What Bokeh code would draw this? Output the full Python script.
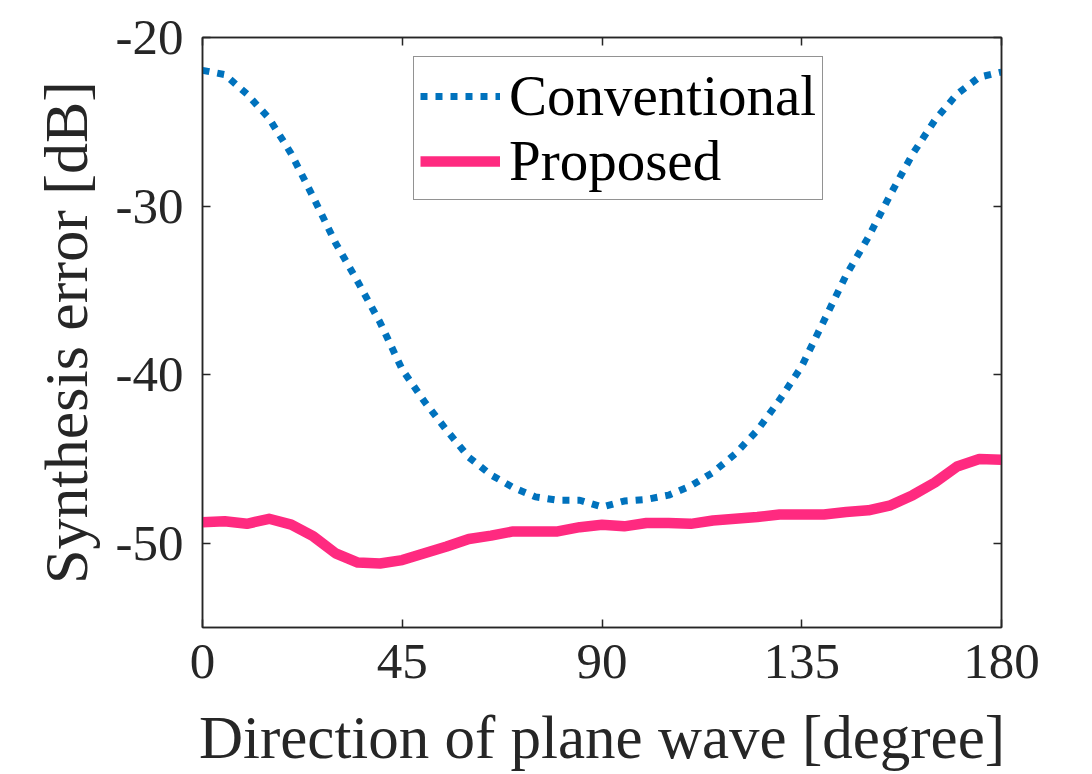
from bokeh.plotting import figure
from bokeh.models import (LinearAxis, FixedTicker, Range1d, Legend, LegendItem)
from bokeh.embed import file_html
from bokeh.resources import INLINE

# ---- data ----
angles = list(range(0, 181, 5))
conventional = [-21.95, -22.2, -23.35, -24.8, -26.9, -29.5, -32.2, -34.5, -36.9,
                -39.7, -41.6, -43.3, -44.9, -45.95, -46.7, -47.25, -47.45, -47.45,
                -47.85, -47.5, -47.4, -47.15, -46.6, -45.8, -44.7, -43.3, -41.5,
                -39.5, -36.8, -34.1, -31.85, -29.3, -26.9, -24.9, -23.35, -22.35,
                -22.05]
proposed = [-48.75, -48.7, -48.85, -48.55, -48.9, -49.6, -50.6, -51.15, -51.2,
            -51.0, -50.6, -50.2, -49.75, -49.55, -49.3, -49.3, -49.3, -49.05,
            -48.9, -49.0, -48.8, -48.8, -48.85, -48.65, -48.55, -48.45, -48.3,
            -48.3, -48.3, -48.15, -48.05, -47.75, -47.15, -46.4, -45.45, -45.0,
            -45.05]
x_ticks = [0, 45, 90, 135, 180]
x_tick_labels = ["0", "45", "90", "135", "180"]
y_ticks = [-50, -40, -30, -20]
y_tick_labels = ["-50", "-40", "-30", "-20"]
series_names = ["Conventional", "Proposed"]

FONT = "Liberation Serif"
AX = "#262626"

W, H = 1088, 774
p = figure(width=W, height=H, output_backend="svg", toolbar_location=None,
           x_range=Range1d(0, 180), y_range=Range1d(-55, -20),
           min_border_left=202, min_border_right=W - 1001,
           min_border_top=37, min_border_bottom=H - 627,
           x_axis_label="Direction of plane wave [degree]",
           y_axis_label="Synthesis error [dB]")
p.grid.visible = False
p.outline_line_color = AX
p.outline_line_width = 1.5
p.background_fill_color = "white"
p.border_fill_color = "white"

def style_axis(ax, ticks, labels, show_labels=True):
    ax.ticker = FixedTicker(ticks=ticks)
    ax.major_label_overrides = {t: l for t, l in zip(ticks, labels)}
    ax.minor_tick_line_color = None
    ax.major_tick_in = 8
    ax.major_tick_out = 0
    ax.major_tick_line_color = AX
    ax.major_tick_line_width = 1.5
    ax.axis_line_color = AX
    ax.axis_line_width = 1.5
    ax.major_label_text_font = FONT
    ax.major_label_text_color = AX
    if show_labels:
        ax.major_label_text_font_size = "51px"
    else:
        ax.major_label_text_font_size = "0px"
        ax.major_label_text_alpha = 0

style_axis(p.xaxis[0], x_ticks, x_tick_labels)
style_axis(p.yaxis[0], y_ticks, y_tick_labels)
p.xaxis[0].major_label_standoff = 17
p.yaxis[0].major_label_standoff = 19
p.xaxis[0].axis_label_text_font_size = "61px"
p.yaxis[0].axis_label_text_font_size = "62px"
for ax in (p.xaxis[0], p.yaxis[0]):
    ax.axis_label_text_font = FONT
    ax.axis_label_text_font_style = "normal"
    ax.axis_label_text_color = AX
p.xaxis[0].axis_label_standoff = 23
p.yaxis[0].axis_label_standoff = 13

top_ax = LinearAxis()
style_axis(top_ax, x_ticks, x_tick_labels, show_labels=False)
p.add_layout(top_ax, "above")
right_ax = LinearAxis()
style_axis(right_ax, y_ticks, y_tick_labels, show_labels=False)
p.add_layout(right_ax, "right")

r1 = p.line(angles, conventional, line_color="#0072BD", line_width=7,
            line_dash="7 8")
r2 = p.line(angles, proposed, line_color="#FF2A80", line_width=10.5,
            line_join="round")

legend = Legend(items=[LegendItem(label=series_names[0], renderers=[r1]),
                       LegendItem(label=series_names[1], renderers=[r2])],
                location=(211, 427))
legend.label_text_font = FONT
legend.label_text_font_size = "57px"
legend.label_text_color = "black"
legend.glyph_width = 80
legend.glyph_height = 60
legend.label_standoff = 9
legend.spacing = 0
legend.padding = 6
legend.margin = 0
legend.border_line_color = AX
legend.border_line_width = 1.5
legend.background_fill_color = "white"
legend.background_fill_alpha = 1
p.add_layout(legend, "center")

open("out.html", "w").write(file_html(p, INLINE))
